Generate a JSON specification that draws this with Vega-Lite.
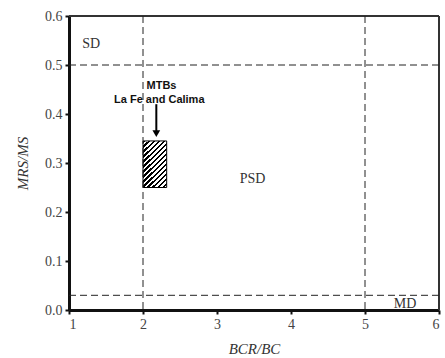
{
  "$schema": "https://vega.github.io/schema/vega-lite/v6.json",
  "autosize": {"type": "none"},
  "width": 370,
  "height": 294,
  "padding": {"left": 69, "top": 16, "right": 6, "bottom": 48},
  "background": "white",
  "config": {
    "view": {"stroke": null}
  },
  "datasets": {
    "frame": [{"x": 6, "y": 0.6}],
    "vlines": [{"x": 2}, {"x": 5}],
    "hlines": [{"y": 0.5}, {"y": 0.03}],
    "box": [{"x": 2.0, "xe": 2.32, "y": 0.25, "ye": 0.345}],
    "regions": [
      {"label": "SD", "x": 1.3, "y": 0.535},
      {"label": "PSD", "x": 3.48, "y": 0.26},
      {"label": "MD", "x": 5.54, "y": 0.004}
    ],
    "notes": [
      {"label": "MTBs", "x": 2.25, "y": 0.458},
      {"label": "La Fe and Calima", "x": 2.22, "y": 0.428}
    ],
    "arrow": [{"x": 2.18, "y": 0.42, "ye": 0.365}],
    "arrowhead": [{"x": 2.18, "y": 0.36}]
  },
  "layer": [
    {
      "data": {"name": "box"},
      "mark": {
        "type": "rect",
        "stroke": "#000",
        "strokeWidth": 1,
        "fill": {
          "gradient": "linear",
          "x1": 0, "y1": 0, "x2": 0.6, "y2": 1.2,
          "stops": [
            {"offset": 0, "color": "#000"}, {"offset": 0.0321, "color": "#000"}, {"offset": 0.0321, "color": "#fff"}, {"offset": 0.0714, "color": "#fff"},
            {"offset": 0.0714, "color": "#000"}, {"offset": 0.1036, "color": "#000"}, {"offset": 0.1036, "color": "#fff"}, {"offset": 0.1429, "color": "#fff"},
            {"offset": 0.1429, "color": "#000"}, {"offset": 0.1750, "color": "#000"}, {"offset": 0.1750, "color": "#fff"}, {"offset": 0.2143, "color": "#fff"},
            {"offset": 0.2143, "color": "#000"}, {"offset": 0.2464, "color": "#000"}, {"offset": 0.2464, "color": "#fff"}, {"offset": 0.2857, "color": "#fff"},
            {"offset": 0.2857, "color": "#000"}, {"offset": 0.3179, "color": "#000"}, {"offset": 0.3179, "color": "#fff"}, {"offset": 0.3571, "color": "#fff"},
            {"offset": 0.3571, "color": "#000"}, {"offset": 0.3893, "color": "#000"}, {"offset": 0.3893, "color": "#fff"}, {"offset": 0.4286, "color": "#fff"},
            {"offset": 0.4286, "color": "#000"}, {"offset": 0.4607, "color": "#000"}, {"offset": 0.4607, "color": "#fff"}, {"offset": 0.5, "color": "#fff"},
            {"offset": 0.5, "color": "#000"}, {"offset": 0.5321, "color": "#000"}, {"offset": 0.5321, "color": "#fff"}, {"offset": 0.5714, "color": "#fff"},
            {"offset": 0.5714, "color": "#000"}, {"offset": 0.6036, "color": "#000"}, {"offset": 0.6036, "color": "#fff"}, {"offset": 0.6429, "color": "#fff"},
            {"offset": 0.6429, "color": "#000"}, {"offset": 0.6750, "color": "#000"}, {"offset": 0.6750, "color": "#fff"}, {"offset": 0.7143, "color": "#fff"},
            {"offset": 0.7143, "color": "#000"}, {"offset": 0.7464, "color": "#000"}, {"offset": 0.7464, "color": "#fff"}, {"offset": 0.7857, "color": "#fff"},
            {"offset": 0.7857, "color": "#000"}, {"offset": 0.8179, "color": "#000"}, {"offset": 0.8179, "color": "#fff"}, {"offset": 0.8571, "color": "#fff"},
            {"offset": 0.8571, "color": "#000"}, {"offset": 0.8893, "color": "#000"}, {"offset": 0.8893, "color": "#fff"}, {"offset": 0.9286, "color": "#fff"},
            {"offset": 0.9286, "color": "#000"}, {"offset": 0.9607, "color": "#000"}, {"offset": 0.9607, "color": "#fff"}, {"offset": 1, "color": "#fff"}
          ]
        }
      },
      "encoding": {
        "x": {"field": "x", "type": "quantitative", "scale": {"domain": [1, 6], "nice": false, "zero": false},
          "axis": {"values": [1, 2, 3, 4, 5, 6], "format": "d", "title": "BCR/BC", "titlePadding": 10,
            "grid": false, "domainColor": "#111", "domainWidth": 3, "tickColor": "#111", "tickWidth": 2, "tickSize": 4,
            "labelFont": "Liberation Serif", "labelFontSize": 14, "labelColor": "#444", "labelPadding": 3,
            "titleFont": "Liberation Serif", "titleFontStyle": "italic", "titleFontWeight": "normal", "titleFontSize": 15, "titleColor": "#333"}},
        "x2": {"field": "xe"},
        "y": {"field": "y", "type": "quantitative", "scale": {"domain": [0, 0.6], "nice": false},
          "axis": {"values": [0, 0.1, 0.2, 0.3, 0.4, 0.5, 0.6], "format": ".1f", "title": "MRS/MS", "titlePadding": 14,
            "grid": false, "domainColor": "#111", "domainWidth": 3, "tickColor": "#111", "tickWidth": 2, "tickSize": 4,
            "labelFont": "Liberation Serif", "labelFontSize": 14, "labelColor": "#444", "labelPadding": 3,
            "titleFont": "Liberation Serif", "titleFontStyle": "italic", "titleFontWeight": "normal", "titleFontSize": 15, "titleColor": "#333"}},
        "y2": {"field": "ye"}
      }
    },
    {
      "data": {"name": "frame"},
      "mark": {"type": "rule", "color": "#333", "strokeWidth": 2},
      "encoding": {"y": {"field": "y", "type": "quantitative", "scale": {"domain": [0, 0.6], "nice": false}}}
    },
    {
      "data": {"name": "frame"},
      "mark": {"type": "rule", "color": "#333", "strokeWidth": 2},
      "encoding": {"x": {"field": "x", "type": "quantitative", "scale": {"domain": [1, 6], "nice": false, "zero": false}}}
    },
    {
      "data": {"name": "vlines"},
      "mark": {"type": "rule", "color": "#222", "strokeWidth": 1, "strokeDash": [7, 4]},
      "encoding": {
        "x": {"field": "x", "type": "quantitative"}
      }
    },
    {
      "data": {"name": "hlines"},
      "mark": {"type": "rule", "color": "#222", "strokeWidth": 1, "strokeDash": [7, 4]},
      "encoding": {
        "y": {"field": "y", "type": "quantitative"}
      }
    },
    {
      "data": {"name": "regions"},
      "mark": {"type": "text", "font": "Liberation Serif", "fontSize": 14, "color": "#333", "baseline": "alphabetic", "align": "center"},
      "encoding": {
        "x": {"field": "x", "type": "quantitative"},
        "y": {"field": "y", "type": "quantitative"},
        "text": {"field": "label"}
      }
    },
    {
      "data": {"name": "notes"},
      "mark": {"type": "text", "font": "Liberation Sans", "fontSize": 11, "fontWeight": "bold", "color": "#111", "baseline": "middle", "align": "center"},
      "encoding": {
        "x": {"field": "x", "type": "quantitative"},
        "y": {"field": "y", "type": "quantitative"},
        "text": {"field": "label"}
      }
    },
    {
      "data": {"name": "arrow"},
      "mark": {"type": "rule", "color": "#000", "strokeWidth": 2},
      "encoding": {
        "x": {"field": "x", "type": "quantitative"},
        "y": {"field": "y", "type": "quantitative"},
        "y2": {"field": "ye"}
      }
    },
    {
      "data": {"name": "arrowhead"},
      "mark": {"type": "point", "shape": "triangle-down", "filled": true, "color": "#000", "size": 60, "opacity": 1},
      "encoding": {
        "x": {"field": "x", "type": "quantitative"},
        "y": {"field": "y", "type": "quantitative"}
      }
    }
  ]
}
